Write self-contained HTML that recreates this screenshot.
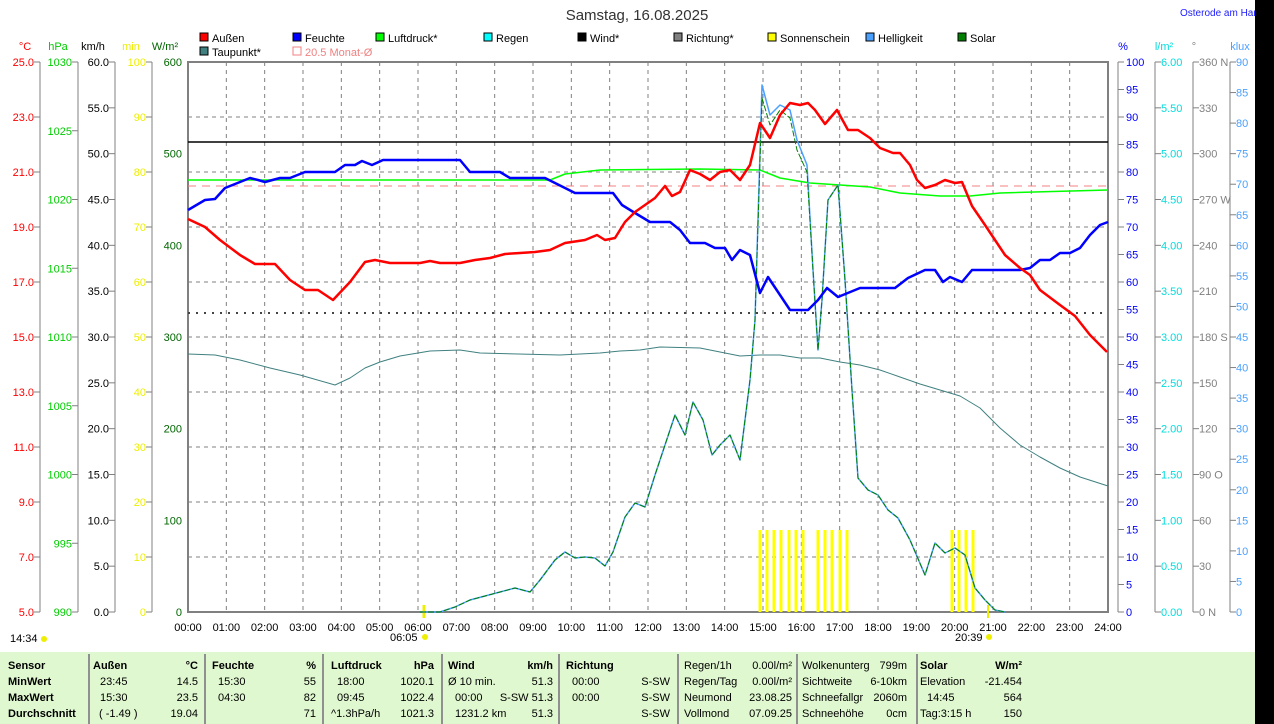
<!DOCTYPE html>
<html><head><meta charset="utf-8"><style>
body{margin:0;background:#fff;width:1274px;height:724px;overflow:hidden;position:relative;font-family:"Liberation Sans",sans-serif}
svg{position:absolute;left:0;top:0}
</style></head><body>
<svg id="s" width="1274" height="724" xmlns="http://www.w3.org/2000/svg" font-family="Liberation Sans, sans-serif" font-size="11"></svg>
<script>
const S=document.getElementById('s');let h='';
const X0=188,X1=1108,Y0=62,Y1=612;
function t(x,y,s,c,a,extra){h+=`<text x="${x}" y="${y}" fill="${c||'#000'}" text-anchor="${a||'start'}" ${extra||''}>${s}</text>`;}
function l(x1,y1,x2,y2,c,w,d){h+=`<line x1="${x1}" y1="${y1}" x2="${x2}" y2="${y2}" stroke="${c}" stroke-width="${w||1}" ${d?`stroke-dasharray="${d}"`:''}/>`;}
function p(pts,c,w,d){h+=`<polyline fill="none" stroke="${c}" stroke-width="${w||1}" stroke-linejoin="round" ${d?`stroke-dasharray="${d}"`:''} points="${pts}"/>`;}
// title
t(637,20,'Samstag, 16.08.2025','#333','middle','font-size="15"');
t(1180,16,'Osterode am Harz','#2020ff','start','font-size="10"');
// legend
const lg=[[200,38,'Außen','#f00'],[293,38,'Feuchte','#00f'],[376,38,'Luftdruck*','#0f0'],[484,38,'Regen','#0ff'],[578,38,'Wind*','#000'],[674,38,'Richtung*','#808080'],[768,38,'Sonnenschein','#ff0'],[866,38,'Helligkeit','#4aa0ff'],[958,38,'Solar','#008000'],[200,52,'Taupunkt*','#408080']];
lg.forEach(g=>{h+=`<rect x="${g[0]}" y="${g[1]-5}" width="8" height="8" fill="${g[3]}" stroke="#000"/>`;t(g[0]+12,g[1]+4,g[2]);});
h+=`<rect x="293" y="47" width="8" height="8" fill="none" stroke="#f08080"/>`;t(305,56,'20.5 Monat-Ø','#f08080');
// grid
for(let i=1;i<24;i++){let x=X0+i*(X1-X0)/24;l(x,Y0,x,Y1,'#808080',1,'4 4');}
for(let i=1;i<10;i++){let y=Y0+i*55;l(X0,y,X1,y,'#808080',1,'4 4');}
h+=`<rect x="${X0}" y="${Y0}" width="${X1-X0}" height="${Y1-Y0}" fill="none" stroke="#808080" stroke-width="2"/>`;
// axes
function axis(ax,lx,n,top,bot,fmt,c,anchor,unit,ux){l(ax,Y0,ax,Y1,'#808080');for(let i=0;i<=n;i++){let y=Y0+i*(Y1-Y0)/n;let v=top-(top-bot)*i/n;l(anchor=='end'?ax-6:ax,y,anchor=='end'?ax:ax+6,y,'#808080');t(lx,y+4,fmt(v,i),c,anchor);}t(ux,50,unit,c,'middle');}
axis(40,34,10,25,5,v=>v.toFixed(1),'#f00','end','°C',25);
axis(78,72,8,1030,990,v=>v.toFixed(0),'#0c0','end','hPa',58);
axis(115,109,12,60,0,v=>v.toFixed(1),'#000','end','km/h',93);
axis(152,146,10,100,0,v=>v.toFixed(0),'#ee0','end','min',131);
t(182,66,'600','#060','end');for(let i=1;i<=6;i++){t(182,Y0+i*550/6+4,(600-100*i)+'','#060','end');}t(165,50,'W/m²','#060','middle');
axis(1118,1126,20,100,0,v=>v.toFixed(0),'#00f','start','%',1123);
axis(1155,1161,12,6,0,v=>v.toFixed(2),'#0dd','start','l/m²',1164);
const dl={0:'360 N',3:'270 W',6:'180 S',9:'90 O',12:'0 N'};
axis(1193,1199,12,360,0,(v,i)=>dl[i]||v.toFixed(0),'#808080','start','°',1194);
axis(1230,1236,18,90,0,v=>v.toFixed(0),'#4aa0ff','start','klux',1240);
// x labels
for(let i=0;i<=24;i++){let x=X0+i*(X1-X0)/24;t(x,631,(i<10?'0':'')+i+':00','#000','middle');}
t(10,642,'14:34');h+=`<circle cx="44" cy="639" r="3" fill="#ee0"/>`;
t(390,641,'06:05');h+=`<circle cx="425" cy="637" r="3" fill="#ee0"/>`;l(424,605,424,618,'#ee0',3);
t(955,641,'20:39');h+=`<circle cx="989" cy="637" r="3" fill="#ee0"/>`;l(988,605,988,618,'#ee0',2);
// ref lines
l(X0,142,X1,142,'#000',1.5);
l(X0,186,X1,186,'#f08080',1,'8 6');
l(X0,313,X1,313,'#444',2,'2 6');
// sunshine bars
[760,767,774,781,789,796,803,818,825,832,840,847,952,959,966,973].forEach(x=>l(x,530,x,612,'#ff0',3));
// series
const taup='188,354 215,355 240,360 270,368 300,375 335,385 350,378 365,368 380,362 400,356 430,351 460,350 480,353 560,355 600,353 620,351 640,350 660,347 700,348 720,352 740,356 760,355 780,355 800,358 820,358 840,362 860,365 880,370 900,377 920,384 940,390 960,396 980,408 1000,428 1020,445 1040,457 1060,468 1080,477 1108,486';
p(taup,'#408080',1);
p('188,180 550,180 565,174 600,170 700,169 760,170 780,178 810,183 870,187 900,193 940,196 970,196 1000,193 1108,190','#0f0',1.5);
const sol='420,612 440,612 455,607 470,600 485,596 500,592 515,588 530,592 540,580 555,560 565,552 575,558 585,557 595,558 605,566 613,552 625,517 635,503 645,507 655,475 665,445 675,415 685,435 693,402 703,420 712,455 720,445 730,435 740,460 750,380 755,320 762,%P 770,125 780,110 790,118 797,140 807,165 813,270 818,350 822,300 828,200 838,185 845,280 852,390 858,478 868,490 878,495 888,510 898,518 910,540 925,575 935,543 945,553 955,548 965,555 975,588 985,600 995,610 1005,612';
p(sol.replace('%P','85').replace('770,125 780,110 790,118','770,115 780,105 790,110'),'#4aa0ff',1.5);
p(sol.replace('%P','98').replace('797,140 807,165','797,150 807,172'),'#008000',1,'6 2');
p('188,210 205,200 215,199 225,188 240,182 250,178 258,180 265,182 280,178 290,178 305,172 335,172 345,165 355,165 362,161 372,165 383,160 460,160 470,172 500,172 510,178 545,178 575,193 613,193 622,205 635,213 650,222 670,222 680,230 690,243 705,243 715,248 725,248 732,260 740,250 750,255 760,293 768,277 780,295 790,310 808,310 818,300 827,288 838,297 860,288 895,288 908,278 925,270 935,270 943,282 950,277 962,282 972,270 1020,270 1030,268 1040,260 1050,260 1060,253 1070,253 1080,248 1090,235 1100,225 1108,222','#00f',2.5);
p('188,219 205,227 220,240 240,255 255,264 275,264 290,280 305,290 318,290 333,300 350,282 365,262 375,260 390,263 420,263 430,261 440,263 460,263 475,260 490,258 505,254 520,253 535,252 550,250 565,243 585,240 597,235 605,240 615,238 625,222 635,212 645,205 655,198 665,186 672,196 680,192 690,170 700,174 710,180 720,172 730,170 740,180 750,165 760,123 770,138 780,115 790,103 800,105 808,103 815,110 825,124 837,110 848,130 858,130 870,138 880,148 893,153 900,153 910,165 917,180 925,188 935,185 945,180 955,183 962,182 972,206 985,225 995,240 1005,255 1020,268 1030,275 1040,290 1060,305 1075,316 1090,335 1107,352','#f00',2.5);
// table
h+=`<rect x="0" y="652" width="1255" height="72" fill="#e0f8d0"/>`;
h+=`<rect x="1255" y="0" width="19" height="724" fill="#000"/>`;
[89,205,323,442,559,678,797,917].forEach(x=>l(x,654,x,724,'#909090',2));
const B='font-weight="bold"';
const rows=[669,685,701,717];
t(8,669,'Sensor','#000','start',B);t(8,685,'MinWert','#000','start',B);t(8,701,'MaxWert','#000','start',B);t(8,717,'Durchschnitt','#000','start',B);
t(93,669,'Außen','#000','start',B);t(198,669,'°C','#000','end',B);
t(100,685,'23:45');t(198,685,'14.5','#000','end');t(100,701,'15:30');t(198,701,'23.5','#000','end');t(99,717,'( -1.49 )');t(198,717,'19.04','#000','end');
t(212,669,'Feuchte','#000','start',B);t(316,669,'%','#000','end',B);
t(218,685,'15:30');t(316,685,'55','#000','end');t(218,701,'04:30');t(316,701,'82','#000','end');t(316,717,'71','#000','end');
t(331,669,'Luftdruck','#000','start',B);t(434,669,'hPa','#000','end',B);
t(337,685,'18:00');t(434,685,'1020.1','#000','end');t(337,701,'09:45');t(434,701,'1022.4','#000','end');t(331,717,'^1.3hPa/h');t(434,717,'1021.3','#000','end');
t(448,669,'Wind','#000','start',B);t(553,669,'km/h','#000','end',B);
t(448,685,'Ø 10 min.');t(553,685,'51.3','#000','end');t(455,701,'00:00');t(553,701,'S-SW 51.3','#000','end');t(455,717,'1231.2 km');t(553,717,'51.3','#000','end');
t(566,669,'Richtung','#000','start',B);
t(572,685,'00:00');t(670,685,'S-SW','#000','end');t(572,701,'00:00');t(670,701,'S-SW','#000','end');t(670,717,'S-SW','#000','end');
[['Regen/1h','0.00l/m²'],['Regen/Tag','0.00l/m²'],['Neumond','23.08.25'],['Vollmond','07.09.25']].forEach((r,i)=>{t(684,rows[0]+i*16,r[0]);t(792,rows[0]+i*16,r[1],'#000','end');});
[['Wolkenunterg','799m'],['Sichtweite','6-10km'],['Schneefallgr','2060m'],['Schneehöhe','0cm']].forEach((r,i)=>{t(802,rows[0]+i*16,r[0]);t(907,rows[0]+i*16,r[1],'#000','end');});
t(920,669,'Solar','#000','start',B);t(1022,669,'W/m²','#000','end',B);
t(920,685,'Elevation');t(1022,685,'-21.454','#000','end');t(927,701,'14:45');t(1022,701,'564','#000','end');t(920,717,'Tag:3:15 h');t(1022,717,'150','#000','end');
S.innerHTML=h;
</script>
</body></html>
